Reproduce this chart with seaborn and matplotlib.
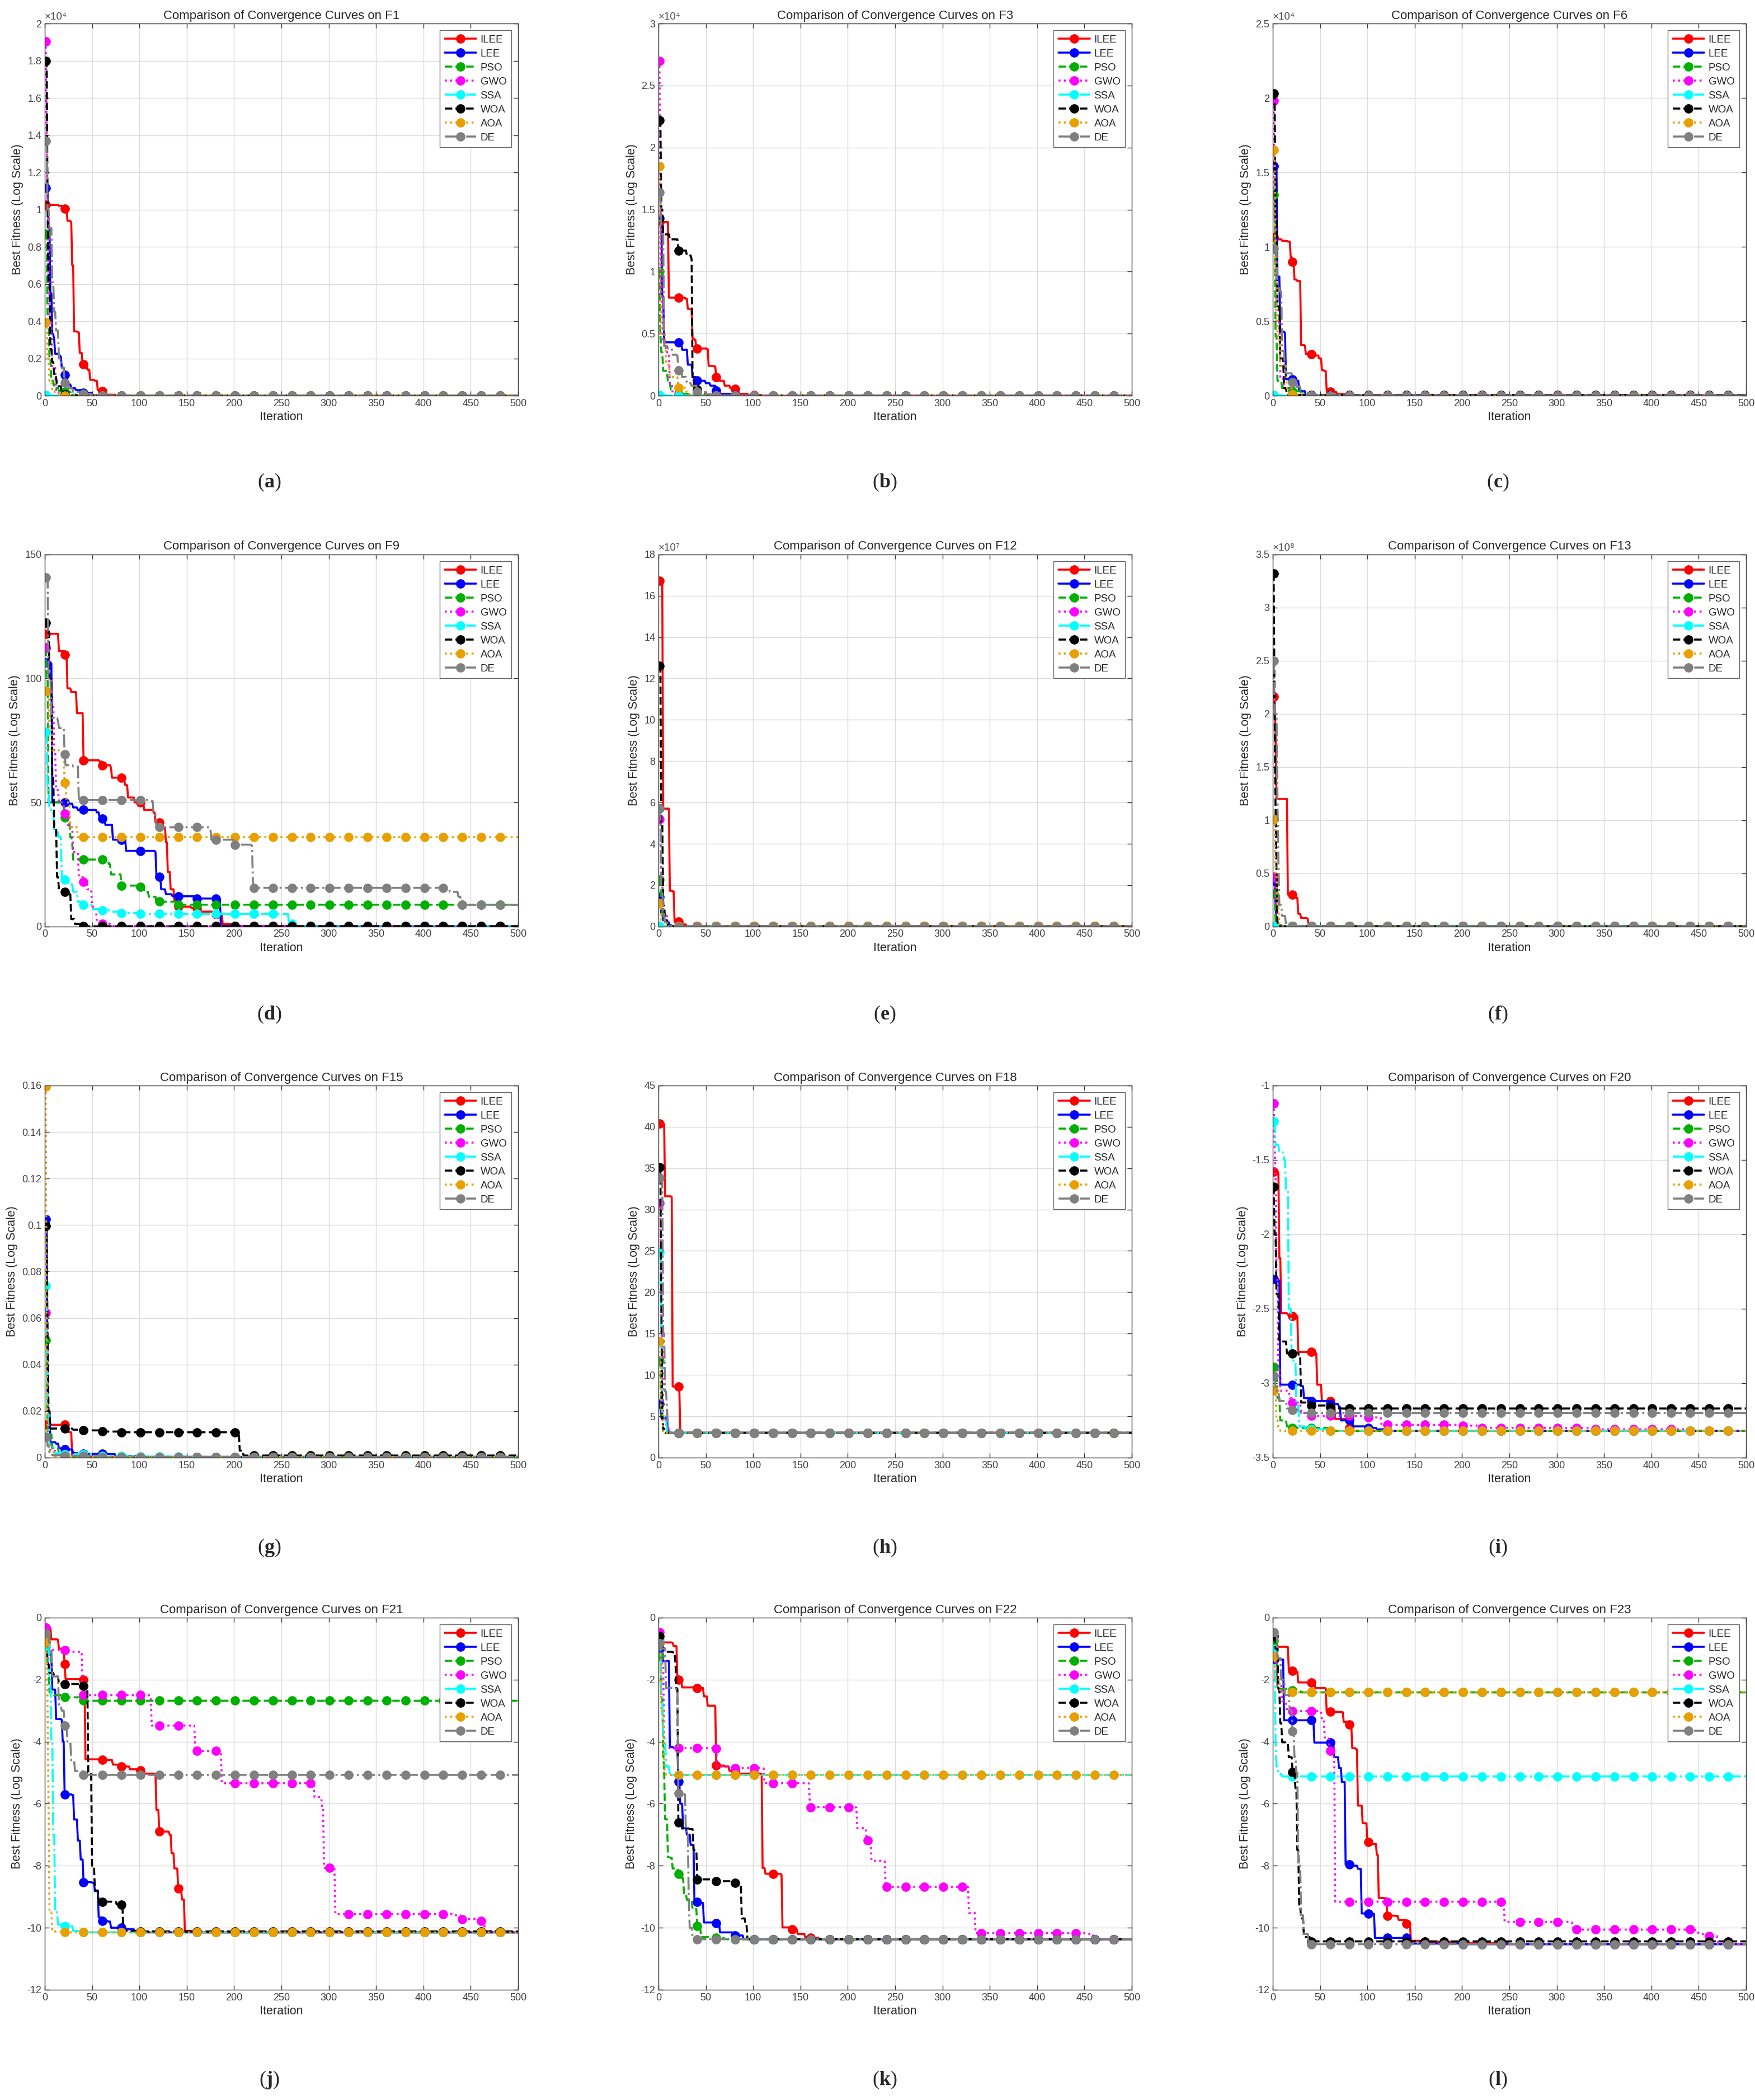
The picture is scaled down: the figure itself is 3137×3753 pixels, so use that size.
import numpy as np
import matplotlib
matplotlib.use("Agg")
import matplotlib.pyplot as plt
import seaborn as sns
from matplotlib.lines import Line2D
from matplotlib.ticker import FuncFormatter

# algorithms, drawn in this order (DE ends up on top)
ALGOS = ["ILEE", "LEE", "PSO", "GWO", "SSA", "WOA", "AOA", "DE"]
COLORS = ["#FF0000", "#0000FF", "#00B000", "#FF00FF", "#00FFFF", "#000000", "#E8A000", "#808080"]
STYLES = ["-", "-", "--", ":", "-.", "--", ":", "-."]

# best-so-far curves as [iteration, value] change points
F1_ILEE = [[1, 10250], [15, 10200], [20, 10050], [24, 9400], [28, 9300], [29, 7000], [31, 3450], [35, 3400],
           [37, 2300], [40, 1700], [45, 1400], [48, 850], [53, 800], [56, 300], [61, 250], [65, 50], [75, 10], [90, 2]]
F1_LEE = [[1, 11150], [4, 9000], [6, 5500], [8, 3300], [10, 3000], [11, 2250], [16, 2100], [18, 1500], [21, 1100],
          [24, 600], [28, 400], [33, 300], [40, 150], [50, 30], [60, 5]]
F1_PSO = [[1, 8700], [3, 4000], [5, 2000], [7, 800], [10, 400], [15, 250], [21, 200], [28, 50], [35, 5]]
F1_GWO = [[1, 19050], [2, 14000], [3, 10000], [5, 4000], [8, 1500], [12, 300], [15, 50], [20, 5]]
F1_SSA = [[1, 40], [5, 10], [20, 2]]
F1_WOA = [[1, 18000], [3, 10000], [4, 6000], [6, 2500], [8, 1800], [10, 1000], [13, 500], [18, 50], [25, 5]]
F1_AOA = [[1, 3950], [3, 2000], [5, 800], [8, 200], [15, 50], [21, 10]]
F1_DE = [[1, 13700], [3, 10000], [5, 9000], [8, 6100], [10, 4500], [12, 3500], [15, 2000], [18, 1500], [21, 700],
         [25, 400], [30, 200], [41, 100], [50, 40], [60, 10]]

F3_ILEE = [[1, 14000], [10, 14000], [11, 7900], [29, 7800], [31, 7000], [35, 6900], [36, 4600], [38, 4500],
           [40, 3800], [52, 3750], [53, 2400], [59, 2350], [61, 1500], [64, 1200], [70, 800], [76, 600], [81, 550],
           [85, 150], [95, 50], [110, 10]]
F3_LEE = [[1, 14300], [4, 8000], [6, 4300], [22, 4300], [25, 3700], [31, 2500], [36, 1500], [40, 1200], [50, 1000],
          [55, 800], [61, 400], [65, 150], [80, 30], [100, 5]]
F3_PSO = [[1, 10000], [2, 5000], [3, 3500], [5, 2000], [10, 1000], [13, 500], [21, 150], [40, 50], [60, 10]]
F3_GWO = [[1, 27000], [2, 15000], [3, 8000], [5, 4500], [8, 3500], [12, 1000], [15, 200], [20, 20]]
F3_SSA = [[1, 30], [10, 10], [30, 2]]
F3_WOA = [[1, 22200], [3, 15000], [5, 13000], [12, 12600], [21, 11700], [30, 11300], [35, 11000], [36, 1500],
          [38, 500], [42, 100], [60, 10]]
F3_AOA = [[1, 18500], [2, 9000], [3, 5000], [8, 2500], [12, 1500], [21, 650], [30, 100], [40, 10]]
F3_DE = [[1, 16400], [3, 13000], [6, 4000], [10, 3800], [15, 3300], [20, 3200], [21, 2050], [25, 1500], [30, 1000],
         [35, 800], [41, 300], [50, 100], [60, 20]]

F6_ILEE = [[1, 10650], [5, 10500], [10, 10400], [16, 10350], [19, 9300], [21, 9000], [23, 7800], [26, 7700],
           [30, 3400], [34, 3350], [35, 2800], [42, 2700], [49, 2500], [52, 1700], [55, 1650], [57, 350], [60, 250],
           [68, 100], [80, 20], [100, 5]]
F6_LEE = [[1, 15400], [5, 8000], [8, 4300], [13, 4200], [14, 1100], [25, 1000], [28, 300], [35, 20]]
F6_PSO = [[1, 13500], [3, 4000], [5, 1000], [10, 500], [21, 300], [30, 50], [40, 5]]
F6_GWO = [[1, 19800], [2, 12000], [4, 5000], [8, 1200], [12, 500], [20, 50]]
F6_SSA = [[1, 30], [10, 5]]
F6_WOA = [[1, 20300], [3, 12000], [5, 6000], [8, 2500], [12, 500], [15, 50]]
F6_AOA = [[1, 16500], [3, 8000], [5, 4000], [8, 2000], [15, 500], [21, 80], [30, 10]]
F6_DE = [[1, 9900], [5, 7500], [7, 7000], [10, 3000], [13, 1500], [21, 900], [25, 600], [30, 200], [40, 20]]

F9_ILEE = [[1, 118], [14, 118], [15, 111], [21, 109.5], [24, 96], [28, 94.5], [34, 86], [41, 67], [58, 66.5],
           [61, 65], [70, 64], [71, 60], [83, 59], [85, 57], [88, 52], [95, 50], [105, 47], [115, 46], [117, 42],
           [125, 40], [128, 34], [130, 22], [133, 15], [137, 10.5], [140, 8], [155, 7.5], [165, 6], [180, 5],
           [188, 1], [200, 0.2]]
F9_LEE = [[1, 106.5], [7, 106], [8, 50], [25, 49.5], [30, 48], [35, 47], [55, 46], [58, 43.5], [64, 41], [72, 35],
          [86, 30.5], [117, 30], [118, 20], [123, 15], [128, 13], [135, 12.2], [160, 11.3], [185, 11], [186, 0.3],
          [200, 0]]
F9_PSO = [[1, 112], [2, 100], [4, 50], [20, 48.5], [21, 44], [25, 42], [27, 36], [29, 34], [30, 27], [65, 26.5],
          [68, 25], [70, 21], [81, 16.5], [100, 16], [105, 14], [110, 12], [118, 10], [140, 8.8]]
F9_GWO = [[1, 112.5], [5, 100], [8, 90], [10, 70], [12, 55], [15, 50], [21, 45.5], [25, 40], [30, 30], [36, 20],
          [41, 18], [45, 15], [50, 8], [55, 2], [61, 1], [70, 0.2]]
F9_SSA = [[1, 78.5], [3, 55], [5, 47], [10, 38], [15, 36], [18, 20], [21, 19], [25, 17], [30, 14], [35, 10],
          [41, 8.8], [50, 7], [61, 6.5], [70, 6], [81, 5.4], [100, 5.1], [256, 5], [258, 1], [265, 0.1]]
F9_WOA = [[1, 122.5], [5, 100], [8, 60], [10, 40], [13, 20], [15, 15], [21, 14], [26, 13], [28, 3], [32, 1],
          [40, 0.1]]
F9_AOA = [[1, 95], [5, 80], [8, 71], [18, 70], [21, 58], [23, 50], [27, 40], [35, 36]]
F9_DE = [[1, 140.7], [4, 100], [7, 84], [14, 83], [15, 80], [21, 69.5], [22, 65], [30, 64.5], [36, 51], [113, 50.5],
         [115, 45], [118, 40], [175, 39.5], [176, 35], [200, 34], [201, 33], [219, 32.5], [220, 15.6], [425, 15.5],
         [428, 14], [437, 12], [440, 8.8]]

F12_ILEE = [[1, 16.73e7], [3, 16.6e7], [5, 5.7e7], [11, 5.7e7], [12, 1.73e7], [15, 1.7e7], [17, 0.24e7],
            [22, 0.2e7], [25, 0.1e7], [30, 0.01e7]]
F12_LEE = [[1, 1.42e7], [3, 0.6e7], [5, 0.3e7], [8, 0.2e7], [12, 0.05e7], [15, 0.005e7]]
F12_PSO = [[1, 2.27e7], [3, 0.8e7], [5, 0.3e7], [10, 0.01e7]]
F12_GWO = [[1, 5.2e7], [3, 2.5e7], [5, 0.5e7], [10, 0.01e7]]
F12_SSA = [[1, 0.01e7], [10, 0.001e7]]
F12_WOA = [[1, 12.6e7], [3, 5e7], [5, 1e7], [7, 0.3e7], [10, 0.01e7]]
F12_AOA = [[1, 1.12e7], [3, 0.3e7], [8, 0.01e7]]
F12_DE = [[1, 5.7e7], [3, 2e7], [5, 0.6e7], [7, 0.2e7], [10, 0.02e7], [20, 0.005e7]]

F13_ILEE = [[1, 2.16e8], [3, 1.8e8], [4, 1.2e8], [15, 1.2e8], [16, 0.3e8], [23, 0.29e8], [24, 0.27e8],
            [27, 0.12e8], [30, 0.08e8], [37, 0.07e8], [38, 0.005e8]]
F13_LEE = [[1, 0.43e8], [3, 0.2e8], [4, 0.01e8], [10, 0.001e8]]
F13_PSO = [[1, 0.31e8], [3, 0.05e8], [4, 0.002e8]]
F13_GWO = [[1, 0.47e8], [3, 0.2e8], [5, 0.002e8]]
F13_SSA = [[1, 0.002e8]]
F13_WOA = [[1, 3.32e8], [2, 2.0e8], [3, 1.1e8], [4, 0.5e8], [5, 0.05e8], [6, 0.002e8]]
F13_AOA = [[1, 1.01e8], [3, 0.5e8], [5, 0.2e8], [7, 0.002e8]]
F13_DE = [[1, 2.5e8], [2, 2.0e8], [5, 1.2e8], [6, 0.6e8], [7, 0.2e8], [10, 0.1e8], [14, 0.02e8], [16, 0.002e8]]

F15_ILEE = [[1, 0.0141], [22, 0.014], [25, 0.011], [28, 0.0108], [29, 0.0005], [40, 0.0004], [60, 0.0003]]
F15_LEE = [[1, 0.1025], [3, 0.02], [6, 0.0066], [12, 0.006], [15, 0.004], [21, 0.0035], [30, 0.002], [35, 0.0016],
           [68, 0.0015], [75, 0.0005], [100, 0.0003]]
F15_PSO = [[1, 0.0505], [3, 0.01], [8, 0.004], [15, 0.002], [21, 0.001], [30, 0.0004], [60, 0.0003]]
F15_GWO = [[1, 0.0624], [3, 0.01], [6, 0.003], [12, 0.001], [30, 0.0003]]
F15_SSA = [[1, 0.0738], [3, 0.02], [5, 0.005], [10, 0.002], [21, 0.0015], [50, 0.0008], [100, 0.0005],
           [150, 0.0003]]
F15_WOA = [[1, 0.0995], [3, 0.05], [4, 0.02], [6, 0.0125], [30, 0.012], [41, 0.0117], [61, 0.0112], [81, 0.0109],
           [205, 0.0108], [206, 0.003], [210, 0.0009]]
F15_AOA = [[1, 0.1595], [2, 0.05], [3, 0.01], [5, 0.003], [10, 0.0005], [30, 0.0003]]
F15_DE = [[1, 0.009], [3, 0.005], [5, 0.002], [8, 0.001], [21, 0.0008], [60, 0.0003]]

F18_ILEE = [[1, 40.4], [6, 40.3], [7, 31.6], [14, 31.5], [15, 8.6], [22, 8.5], [23, 3.0]]
F18_LEE = [[1, 6.5], [3, 4.84], [9, 4.8], [10, 3.0]]
F18_PSO = [[1, 11.7], [3, 5], [5, 3.2], [7, 3.0]]
F18_GWO = [[1, 30.8], [3, 15], [5, 5], [8, 4], [11, 3.0]]
F18_SSA = [[1, 24.8], [3, 15], [4, 5], [7, 4.8], [9, 3.0]]
F18_WOA = [[1, 35.1], [3, 20], [4, 5], [5, 3.5], [7, 3.0]]
F18_AOA = [[1, 14.1], [3, 6], [5, 3.0]]
F18_DE = [[1, 33.8], [5, 15], [7, 8], [9, 6], [10, 3.5], [12, 3.0]]

F20_ILEE = [[1, -1.58], [4, -1.59], [7, -2.16], [9, -2.53], [16, -2.54], [21, -2.55], [27, -2.79], [44, -2.8],
            [47, -3.01], [52, -3.12], [65, -3.13], [66, -3.24], [78, -3.25], [80, -3.3], [83, -3.32]]
F20_LEE = [[1, -2.3], [5, -2.31], [8, -3.01], [30, -3.02], [33, -3.1], [41, -3.12], [60, -3.14], [70, -3.16],
           [72, -3.25], [85, -3.29], [101, -3.3], [110, -3.31], [120, -3.32]]
F20_PSO = [[1, -2.89], [5, -3.1], [8, -3.25], [15, -3.29], [21, -3.3], [60, -3.32]]
F20_GWO = [[1, -1.12], [2, -1.4], [3, -1.6], [4, -2.3], [6, -2.9], [8, -3.05], [18, -3.1], [21, -3.13], [30, -3.2],
           [40, -3.22], [101, -3.23], [115, -3.28], [200, -3.285], [220, -3.3], [340, -3.31], [440, -3.32]]
F20_SSA = [[1, -1.24], [3, -1.4], [7, -1.45], [12, -1.5], [14, -1.7], [17, -2.5], [20, -2.8], [22, -2.85],
           [25, -3.15], [28, -3.29], [35, -3.31], [60, -3.32]]
F20_WOA = [[1, -1.68], [2, -2.0], [4, -2.4], [7, -2.72], [15, -2.8], [28, -2.81], [30, -3.13], [41, -3.15],
           [61, -3.16], [70, -3.17]]
F20_AOA = [[1, -3.05], [4, -3.25], [6, -3.3], [8, -3.32]]
F20_DE = [[1, -2.95], [3, -3.05], [7, -3.12], [15, -3.17], [21, -3.18], [30, -3.2]]

F21_ILEE = [[1, -0.33], [6, -0.35], [7, -0.7], [14, -0.72], [15, -1.0], [20, -1.02], [21, -1.49], [22, -1.98],
            [41, -2.0], [43, -4.57], [61, -4.59], [72, -4.74], [81, -4.8], [90, -4.89], [101, -4.92], [105, -5.03],
            [116, -5.04], [118, -6.2], [121, -6.9], [132, -7.0], [134, -7.6], [137, -8.09], [141, -8.74],
            [145, -9.09], [148, -10.1], [160, -10.15]]
F21_LEE = [[1, -0.8], [5, -1.2], [8, -2.32], [12, -3.27], [18, -3.3], [19, -4.0], [21, -5.7], [29, -5.72],
           [31, -6.51], [35, -7.19], [38, -7.8], [41, -8.53], [50, -8.55], [53, -8.82], [57, -9.67], [61, -9.78],
           [67, -9.8], [70, -10.0], [82, -10.05], [95, -10.15]]
F21_PSO = [[1, -0.6], [3, -1.5], [5, -2.41], [10, -2.5], [21, -2.57], [41, -2.68]]
F21_GWO = [[1, -0.33], [3, -0.8], [5, -1.04], [25, -1.1], [40, -2.5], [111, -2.6], [113, -3.48], [159, -4.3],
           [187, -5.34], [285, -5.79], [293, -6.1], [295, -8.07], [307, -9.56], [431, -9.6], [440, -9.72],
           [461, -9.78], [465, -10.1], [480, -10.15]]
F21_SSA = [[1, -0.9], [5, -2.0], [7, -4.0], [9, -7.0], [11, -9.5], [14, -9.9], [21, -9.94], [30, -10.1],
           [40, -10.15]]
F21_WOA = [[1, -0.78], [3, -1.5], [5, -1.78], [10, -1.9], [15, -2.14], [37, -2.2], [45, -2.21], [46, -5.0],
           [50, -8.0], [53, -8.8], [57, -9.16], [76, -9.25], [83, -10.1], [100, -10.12]]
F21_AOA = [[1, -0.78], [3, -3.0], [4, -6.0], [5, -9.5], [8, -10.12], [20, -10.15]]
F21_DE = [[1, -0.51], [5, -1.0], [8, -1.9], [15, -2.86], [18, -3.0], [21, -3.49], [24, -4.0], [28, -4.6],
          [32, -4.95], [40, -5.07]]

F22_ILEE = [[1, -0.8], [15, -0.82], [16, -0.92], [20, -1.96], [21, -2.0], [25, -2.25], [41, -2.27], [48, -2.54],
            [52, -2.84], [60, -2.85], [61, -4.77], [70, -4.8], [75, -4.94], [85, -5.03], [109, -5.04], [110, -8.07],
            [113, -8.26], [130, -8.3], [131, -9.99], [141, -10.05], [147, -10.2], [155, -10.3], [161, -10.33],
            [170, -10.37]]
F22_LEE = [[1, -1.0], [5, -1.4], [12, -4.17], [16, -4.2], [21, -5.28], [23, -6.0], [26, -6.79], [30, -7.0],
           [34, -7.33], [38, -9.16], [45, -9.2], [48, -9.83], [61, -9.85], [65, -10.15], [80, -10.25], [90, -10.37]]
F22_PSO = [[1, -1.24], [3, -2.5], [5, -4.3], [6, -5.0], [7, -6.5], [10, -7.73], [13, -7.75], [15, -8.09],
           [21, -8.26], [23, -8.4], [27, -8.91], [30, -9.1], [36, -9.4], [41, -9.94], [45, -10.3], [61, -10.33],
           [70, -10.37]]
F22_GWO = [[1, -0.47], [4, -1.5], [6, -4.21], [61, -4.23], [62, -4.8], [81, -4.85], [111, -4.86], [112, -5.34],
           [159, -5.35], [160, -6.11], [208, -6.12], [210, -6.79], [220, -7.19], [225, -7.84], [239, -7.85],
           [240, -8.68], [326, -8.69], [328, -9.52], [335, -10.17], [455, -10.2], [460, -10.37]]
F22_SSA = [[1, -0.7], [3, -2.5], [5, -3.8], [8, -4.8], [12, -5.07]]
F22_WOA = [[1, -0.59], [4, -1.0], [8, -1.1], [15, -1.12], [18, -1.5], [19, -2.3], [21, -6.6], [25, -6.8],
           [33, -6.82], [37, -7.5], [41, -8.44], [61, -8.5], [81, -8.55], [86, -8.6], [88, -9.7], [92, -9.9],
           [94, -10.37]]
F22_AOA = [[1, -0.83], [3, -3.0], [6, -4.9], [8, -5.07]]
F22_DE = [[1, -0.83], [3, -1.0], [8, -2.27], [17, -2.3], [21, -5.66], [27, -5.7], [29, -7.0], [32, -9.1],
          [33, -10.0], [36, -10.3], [40, -10.37]]

F23_ILEE = [[1, -0.94], [15, -0.95], [17, -1.71], [25, -1.75], [27, -2.09], [44, -2.1], [45, -2.27], [56, -2.28],
            [57, -3.04], [73, -3.05], [75, -3.36], [81, -3.45], [84, -4.21], [88, -4.25], [90, -6.06], [95, -6.63],
            [100, -7.24], [103, -7.3], [110, -7.65], [112, -9.04], [118, -9.05], [121, -9.61], [130, -9.62],
            [133, -9.75], [141, -9.88], [146, -10.42], [161, -10.45], [200, -10.5], [250, -10.53]]
F23_LEE = [[1, -1.33], [7, -1.35], [12, -3.31], [43, -3.32], [44, -4.03], [62, -4.04], [65, -4.5], [70, -4.85],
           [73, -5.3], [77, -7.96], [84, -8.0], [90, -8.1], [94, -9.54], [106, -9.55], [108, -10.33], [143, -10.35],
           [145, -10.51], [200, -10.53]]
F23_PSO = [[1, -0.74], [5, -2.3], [21, -2.34], [30, -2.41]]
F23_GWO = [[1, -1.01], [5, -2.2], [10, -2.7], [15, -3.01], [50, -3.02], [52, -3.3], [55, -3.9], [60, -4.29],
           [63, -4.5], [66, -9.16], [243, -9.17], [245, -9.81], [315, -9.82], [317, -10.0], [321, -10.06],
           [445, -10.07], [450, -10.2], [461, -10.26], [470, -10.45], [485, -10.53]]
F23_SSA = [[1, -1.01], [3, -4.0], [4, -4.8], [6, -5.05], [10, -5.12]]
F23_WOA = [[1, -0.6], [3, -1.0], [6, -2.3], [8, -3.4], [10, -4.02], [15, -4.05], [17, -4.5], [21, -4.98],
           [24, -5.5], [26, -7.5], [28, -9.3], [30, -9.7], [33, -10.3], [40, -10.44]]
F23_AOA = [[1, -1.24], [3, -2.0], [8, -2.41]]
F23_DE = [[1, -0.47], [5, -1.3], [9, -2.0], [13, -2.5], [18, -3.0], [21, -3.67], [23, -4.5], [25, -5.0],
          [27, -8.0], [30, -9.6], [33, -10.2], [38, -10.5], [40, -10.53]]

# panel name, curves, y range, y tick step, exponent shown as x10^n
PANELS = [
    ("F1", [F1_ILEE, F1_LEE, F1_PSO, F1_GWO, F1_SSA, F1_WOA, F1_AOA, F1_DE], (0, 2e4), 0.2e4, 4),
    ("F3", [F3_ILEE, F3_LEE, F3_PSO, F3_GWO, F3_SSA, F3_WOA, F3_AOA, F3_DE], (0, 3e4), 0.5e4, 4),
    ("F6", [F6_ILEE, F6_LEE, F6_PSO, F6_GWO, F6_SSA, F6_WOA, F6_AOA, F6_DE], (0, 2.5e4), 0.5e4, 4),
    ("F9", [F9_ILEE, F9_LEE, F9_PSO, F9_GWO, F9_SSA, F9_WOA, F9_AOA, F9_DE], (0, 150), 50, 0),
    ("F12", [F12_ILEE, F12_LEE, F12_PSO, F12_GWO, F12_SSA, F12_WOA, F12_AOA, F12_DE], (0, 18e7), 2e7, 7),
    ("F13", [F13_ILEE, F13_LEE, F13_PSO, F13_GWO, F13_SSA, F13_WOA, F13_AOA, F13_DE], (0, 3.5e8), 0.5e8, 8),
    ("F15", [F15_ILEE, F15_LEE, F15_PSO, F15_GWO, F15_SSA, F15_WOA, F15_AOA, F15_DE], (0, 0.16), 0.02, 0),
    ("F18", [F18_ILEE, F18_LEE, F18_PSO, F18_GWO, F18_SSA, F18_WOA, F18_AOA, F18_DE], (0, 45), 5, 0),
    ("F20", [F20_ILEE, F20_LEE, F20_PSO, F20_GWO, F20_SSA, F20_WOA, F20_AOA, F20_DE], (-3.5, -1), 0.5, 0),
    ("F21", [F21_ILEE, F21_LEE, F21_PSO, F21_GWO, F21_SSA, F21_WOA, F21_AOA, F21_DE], (-12, 0), 2, 0),
    ("F22", [F22_ILEE, F22_LEE, F22_PSO, F22_GWO, F22_SSA, F22_WOA, F22_AOA, F22_DE], (-12, 0), 2, 0),
    ("F23", [F23_ILEE, F23_LEE, F23_PSO, F23_GWO, F23_SSA, F23_WOA, F23_AOA, F23_DE], (-12, 0), 2, 0),
]
LETTERS = list("abcdefghijkl")
SUPERSCRIPT = {4: "\u2074", 7: "\u2077", 8: "\u2078"}

ITERS = np.arange(1, 501)


def expand(points):
    # hold the last recorded best value at every iteration
    bp = np.asarray(points, dtype=float)
    idx = np.searchsorted(bp[:, 0], ITERS, side="right") - 1
    return bp[idx, 1]


sns.set_theme(style="whitegrid")
plt.rcParams["font.family"] = ["Liberation Sans", "DejaVu Sans"]
plt.rcParams["mathtext.fontset"] = "custom"
plt.rcParams["mathtext.rm"] = "Liberation Serif"
plt.rcParams["mathtext.bf"] = "Liberation Serif:bold"

fig = plt.figure(figsize=(31.37, 37.53), dpi=100)

LEFTS = [0.0255, 0.3752, 0.7252]
BOTTOMS = [0.8116, 0.5588, 0.3059, 0.0525]
W, H = 0.2697, 0.1772
LABEL_X = [0.1533, 0.504, 0.8534]
LABEL_Y = [0.7703, 0.5169, 0.2630, 0.0096]

LW = 2.6
MS = 11

handles = [Line2D([0], [0], color=c, linestyle=s, linewidth=LW, marker="o", markersize=MS,
                  markerfacecolor=c, markeredgecolor=c) for c, s in zip(COLORS, STYLES)]

for k, (name, series, (lo, hi), step, expo) in enumerate(PANELS):
    r, c = divmod(k, 3)
    ax = fig.add_axes([LEFTS[c], BOTTOMS[r], W, H])

    for color, ls, pts in zip(COLORS, STYLES, series):
        sns.lineplot(x=ITERS, y=expand(pts), ax=ax, color=color, linestyle=ls, linewidth=LW,
                     marker="o", markersize=MS, markevery=20, markerfacecolor=color,
                     markeredgecolor=color, markeredgewidth=1, estimator=None, sort=False)

    ax.set_xlim(0, 500)
    ax.set_xticks(np.arange(0, 501, 50))
    n = int(round((hi - lo) / step))
    ax.set_ylim(lo, hi)
    ax.set_yticks(np.linspace(lo, hi, n + 1))
    ax.yaxis.set_major_formatter(FuncFormatter(lambda v, p, e=expo: f"{round(v / 10 ** e, 6):g}"))

    ax.grid(True, color="0.86", linewidth=1)
    for sp in ax.spines.values():
        sp.set_color("0.2")
        sp.set_linewidth(1.0)
    ax.tick_params(direction="in", bottom=True, left=True, top=True, right=True, length=6, width=1,
                   color="0.2", labelsize=13, labelcolor="0.25", pad=4)

    ax.set_title(f"Comparison of Convergence Curves on {name}", fontsize=16, pad=6)
    ax.set_xlabel("Iteration", fontsize=15.5, labelpad=4)
    ax.set_ylabel("Best Fitness (Log Scale)", fontsize=15.5, labelpad=5)

    if expo:
        ax.text(0.0, 1.004, "\u00d710" + SUPERSCRIPT[expo], transform=ax.transAxes, ha="left", va="bottom",
                fontsize=13.5, color="0.3")

    ax.legend(handles, ALGOS, loc="upper right", fontsize=13.5, frameon=True, fancybox=False,
              edgecolor="0.4", framealpha=1, borderaxespad=0.65, handlelength=3.0, handletextpad=0.4,
              labelspacing=0.42, borderpad=0.45)

    fig.text(LABEL_X[c], LABEL_Y[r], r"$\mathrm{(}\mathbf{" + LETTERS[k] + r"}\mathrm{)}$",
             fontsize=26, ha="center", va="center")

fig.savefig("out.png", dpi=100)
